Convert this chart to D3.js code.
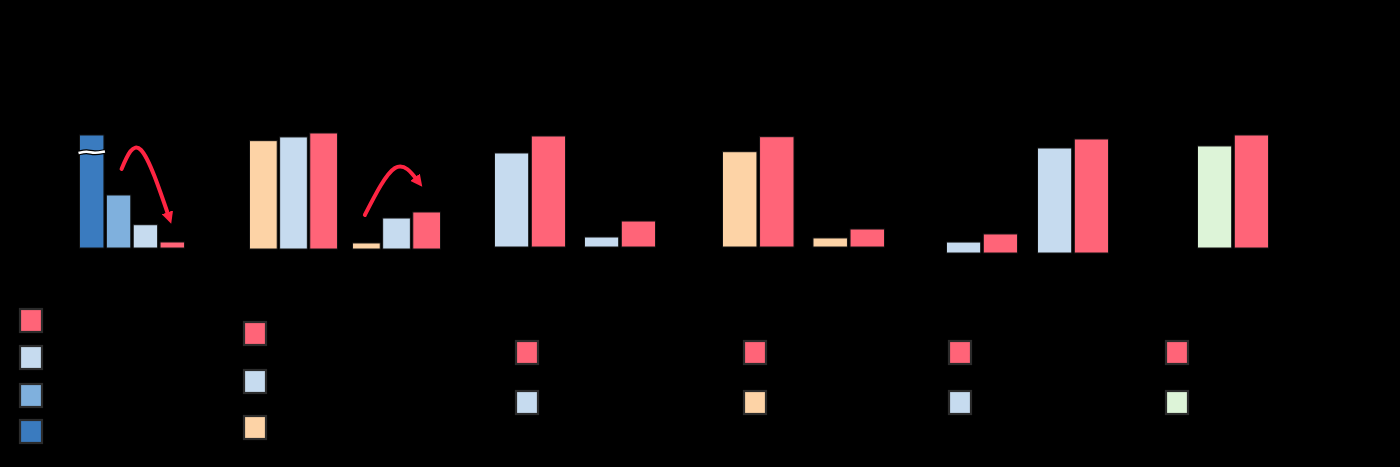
<!DOCTYPE html>
<html><head><meta charset="utf-8">
<script src="https://cdn.jsdelivr.net/npm/d3@7"></script>
<style>
html,body{margin:0;padding:0;background:#000;}
svg{display:block;}
text{font-family:"Liberation Sans",Arial,sans-serif;}
</style></head>
<body>
<svg id="chart" width="1400" height="467"></svg>
<script>
// ---- data ----
const colRed = "#ff6478", colLightBlue = "#c6dbef", colMidBlue = "#7fb0dd",
      colDarkBlue = "#3a7bbf", colPeach = "#fdd3a6", colGreen = "#ddf4d8";

// Panel 1: single group, four bars (first bar broken)
const p1Series = ["Series 4", "Series 3", "Series 2", "Series 1"];
const p1Values = [[100, 46.9, 20.6, 5.3]];
const p1Colors = [colDarkBlue, colMidBlue, colLightBlue, colRed];

// Panel 2: two groups, three bars
const p2Series = ["Series C", "Series B", "Series A"];
const p2Values = [[93.4, 96.6, 100], [5.2, 26.7, 31.9]];
const p2Colors = [colPeach, colLightBlue, colRed];

// Panels 3-6: two bars per group
const p3Values = [[84.7, 100], [9.0, 23.4]];
const p3Colors = [colLightBlue, colRed];
const p4Values = [[86.4, 100], [8.2, 16.3]];
const p4Colors = [colPeach, colRed];
const p5Values = [[9.6, 16.7], [92.1, 100]];
const p5Colors = [colLightBlue, colRed];
const p6Values = [[90.3, 100]];
const p6Colors = [colGreen, colRed];
const pairSeries = ["Series B", "Series A"];

// ---- layout (positions only) ----
const panels = [
  {values:p1Values, colors:p1Colors, series:p1Series, x:[79.5,184.5], base:248, top:135, inner:0.09, outer:0,
   legend:{x:20, y:[309,346,384,420]}, legendColors:[colRed,colLightBlue,colMidBlue,colDarkBlue], brk:0,
   arrow:{from:[0,1], to:[0,3], dxFrom:3, dxTo:-3, dyFrom:-26, dyTo:-24, peak:[141,150]}},
  {values:p2Values, colors:p2Colors, series:p2Series, x:[249.5,440.5], base:249, top:133, inner:0.08, outer:0.146,
   legend:{x:244, y:[322,370,416]}, legendColors:[colRed,colLightBlue,colPeach],
   arrow:{from:[1,0], to:[1,2], dxFrom:-1.5, dxTo:-8, dyFrom:-28, dyTo:-30, peak:[395,168]}},
  {values:p3Values, colors:p3Colors, series:pairSeries, x:[494.5,655.5], base:247, top:136, inner:0.07, outer:0.211,
   legend:{x:516, y:[341,391]}, legendColors:[colRed,colLightBlue]},
  {values:p4Values, colors:p4Colors, series:pairSeries, x:[722.5,884.5], base:247, top:136.7, inner:0.07, outer:0.21,
   legend:{x:744, y:[341,391]}, legendColors:[colRed,colPeach]},
  {values:p5Values, colors:p5Colors, series:pairSeries, x:[946.5,1108.5], base:253, top:139, inner:0.07, outer:0.22,
   legend:{x:949, y:[341,391]}, legendColors:[colRed,colLightBlue]},
  {values:p6Values, colors:p6Colors, series:pairSeries, x:[1197.5,1268.5], base:248, top:135, inner:0.07, outer:0,
   legend:{x:1166, y:[341,391]}, legendColors:[colRed,colGreen]}
];

const svg = d3.select("#chart");
svg.append("rect").attr("width",1400).attr("height",467).attr("fill","#000");

const defs = svg.append("defs");
defs.append("marker").attr("id","ah").attr("viewBox","0 0 10 10").attr("refX",5).attr("refY",5)
  .attr("markerWidth",3).attr("markerHeight",3).attr("orient","auto")
  .append("path").attr("d","M0,0 L10,5 L0,10 z").attr("fill","#ff2442");

panels.forEach((p, pi) => {
  const g = svg.append("g");
  const groups = d3.range(p.values.length);
  const xOuter = d3.scaleBand().domain(groups).range(p.x).paddingInner(p.outer).paddingOuter(0);
  const nb = p.values[0].length;
  const xInner = d3.scaleBand().domain(d3.range(nb)).range([0, xOuter.bandwidth()]).paddingInner(p.inner).paddingOuter(0);
  const y = d3.scaleLinear().domain([0,100]).range([p.base, p.top]);

  groups.forEach(gi => {
    const gg = g.append("g").attr("transform", `translate(${xOuter(gi)},0)`);
    gg.selectAll("rect").data(p.values[gi]).join("rect")
      .attr("x", (d,i) => xInner(i))
      .attr("y", d => y(d))
      .attr("width", xInner.bandwidth())
      .attr("height", d => y(0) - y(d))
      .attr("fill", (d,i) => p.colors[i])
      .attr("stroke", "#111").attr("stroke-width", 1);
  });

  // axis break on first bar
  if (p.brk !== undefined) {
    const bx = xOuter(0) + xInner(p.brk), bw = xInner.bandwidth();
    const by = y(p.values[0][p.brk]) + 17;
    const wave = d3.line().curve(d3.curveBasis)([[bx-1,by+1],[bx+bw*0.3,by-1],[bx+bw*0.6,by+1.5],[bx+bw+1,by-0.5]]);
    g.append("path").attr("d", wave).attr("stroke","#000").attr("stroke-width",5).attr("fill","none");
    g.append("path").attr("d", wave).attr("stroke","#fff").attr("stroke-width",2.6).attr("fill","none");
  }

  // curved arrow
  if (p.arrow) {
    const a = p.arrow;
    const cx = (gi, bi) => xOuter(gi) + xInner(bi) + xInner.bandwidth()/2;
    const s = [cx(a.from[0], a.from[1]) + a.dxFrom, y(p.values[a.from[0]][a.from[1]]) + a.dyFrom];
    const e = [cx(a.to[0], a.to[1]) + a.dxTo, y(p.values[a.to[0]][a.to[1]]) + a.dyTo];
    const pts = [s, a.peak, e];
    g.append("path").attr("d", d3.line().curve(d3.curveNatural)(pts))
      .attr("fill","none").attr("stroke","#ff2442").attr("stroke-width",4)
      .attr("stroke-linecap","round").attr("marker-end","url(#ah)");
  }

  // legend
  const lg = g.append("g");
  p.legend.y.forEach((ly, li) => {
    lg.append("rect").attr("x", p.legend.x).attr("y", ly).attr("width", 22).attr("height", 23)
      .attr("fill", p.legendColors[li]).attr("stroke", "#2b2b2b").attr("stroke-width", 2.2);
  });
});
</script>
</body></html>
